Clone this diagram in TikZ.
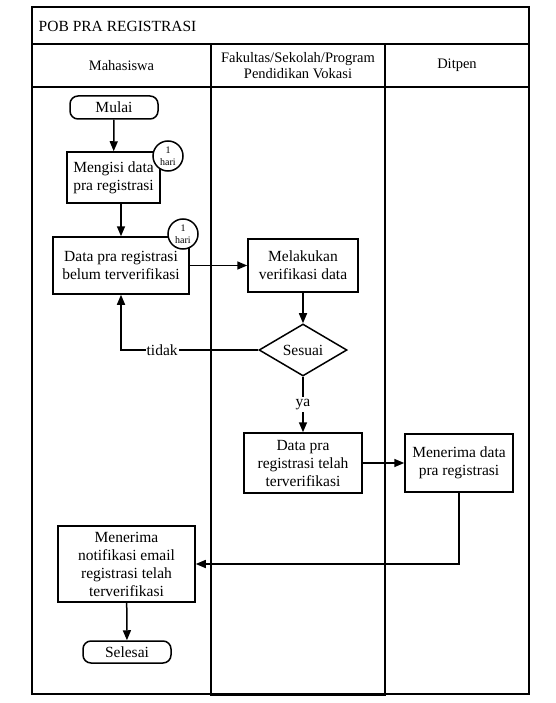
\documentclass[tikz,border=0pt]{standalone}
\usepackage{fontspec}
\setmainfont{Liberation Serif}
\usetikzlibrary{shapes.geometric}
\usetikzlibrary{arrows.meta}

\begin{document}
\begin{tikzpicture}
[-,thick,x=1pt,y=-1pt,%
  lineDecorate/.style={-{Triangle[length=10pt,width=8pt]},line width=1.5pt},%
  laneDecorate/.style={line width=1.6pt},%
  boxDecorate/.style={shape=rectangle,draw,line width=1.5pt,fill=white,align=center,inner sep=1pt,font=\fontsize{15.5}{18}\selectfont},%
  termDecorate/.style={boxDecorate,rounded corners=8pt},%
  dayDecorate/.style={shape=circle,draw,line width=1.5pt,fill=white,minimum size=30pt,inner sep=0pt,align=center,font=\fontsize{10}{12}\selectfont},%
  decisionDecorate/.style={shape=diamond,draw,line width=1.5pt,fill=white,aspect=1.7,inner sep=0pt,minimum width=88pt,minimum height=52pt,font=\fontsize{15.5}{18}\selectfont},%
  headDecorate/.style={align=center,font=\fontsize{14.5}{16}\selectfont}]
\useasboundingbox (0,0) rectangle (555,703);
%% swimlanes
\draw[laneDecorate] (32,7) rectangle (529,694);
\draw[laneDecorate] (32,44) -- (529,44);
\draw[laneDecorate] (32,87) -- (529,87);
\draw[laneDecorate] (211,44) rectangle (385,695.5);
\node[anchor=west,font=\fontsize{15.5}{18}\selectfont] (title) at (35,26) {POB PRA REGISTRASI};
\node[headDecorate] (mhs) at (121.5,65.5) {Mahasiswa};
\node[headDecorate] (fak) at (298,65.5) {Fakultas/Sekolah/Program\\Pendidikan Vokasi};
\node[headDecorate] (dit) at (457,65.5) {Ditpen};
%% nodes
\node[termDecorate,minimum width=88pt,minimum height=23pt] (mulai) at (114,107.5) {Mulai};
\node[boxDecorate,minimum width=93pt,minimum height=51pt] (isi) at (113.5,177.5) {Mengisi data\\pra registrasi};
\node[boxDecorate,minimum width=136pt,minimum height=57pt] (belum) at (121,265.5) {Data pra registrasi\\belum terverifikasi};
\node[boxDecorate,minimum width=110pt,minimum height=53pt] (verif) at (303,265.5) {Melakukan\\verifikasi data};
\node[decisionDecorate] (sesuai) at (303,350) {Sesuai};
\node[boxDecorate,minimum width=118pt,minimum height=60pt] (telah) at (303,463) {Data pra\\registrasi telah\\terverifikasi};
\node[boxDecorate,minimum width=108pt,minimum height=58pt] (terima) at (459,463) {Menerima data\\pra registrasi};
\node[boxDecorate,minimum width=137pt,minimum height=76pt] (notif) at (126.5,564) {Menerima\\notifikasi email\\registrasi telah\\terverifikasi};
\node[termDecorate,minimum width=88pt,minimum height=22pt] (selesai) at (127,652) {Selesai};
%% duration marks
\foreach \nodename/\x/\y in {dayA/168/156, dayB/183/234}
{
  \node[dayDecorate] (\nodename) at (\x,\y) {1\\hari};
}
%% connect nodes
\draw[lineDecorate] (mulai) -- (isi);
\draw[lineDecorate] (belum.north |- isi.south) -- (belum.north);
\draw[lineDecorate] (belum) -- (verif);
\draw[lineDecorate] (verif) -- (sesuai);
\draw[lineDecorate] (sesuai.west) -| node[pos=0.35,fill=white,inner sep=1pt,font=\fontsize{15.5}{18}\selectfont] {tidak} (belum.south);
\draw[lineDecorate] (sesuai) -- node[fill=white,inner sep=2pt,font=\fontsize{15.5}{18}\selectfont] {ya} (telah);
\draw[lineDecorate] (telah) -- (terima);
\draw[lineDecorate] (terima.south) |- (notif.east);
\draw[lineDecorate] (notif) -- (selesai);
\end{tikzpicture}
\end{document}
